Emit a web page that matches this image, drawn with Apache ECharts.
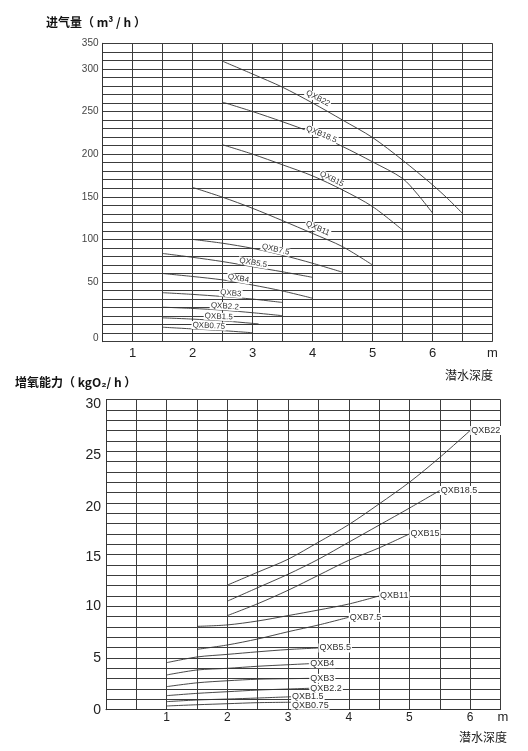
<!DOCTYPE html>
<html><head><meta charset="utf-8">
<script src="https://cdn.jsdelivr.net/npm/echarts@6/dist/echarts.min.js"></script>
<style>html,body{margin:0;padding:0;background:#fff}#c{width:528px;height:751px}</style>
</head><body><div id="c"></div>
<script>
// ---- data ----
const seriesNames = ['QXB22','QXB18.5','QXB15','QXB11','QXB7.5','QXB5.5','QXB4','QXB3','QXB2.2','QXB1.5','QXB0.75'];
const depthTicks = [1, 2, 3, 4, 5, 6];
const depthUnit = 'm';
const airYTicks = [0, 50, 100, 150, 200, 250, 300];
const airTopLabel = '350';
const oxyYTicks = [0, 5, 10, 15, 20, 25, 30];

// 进气量 (m3/h) vs 潜水深度 (m): [depth, value]
const air_QXB22  = [[2.5,309],[3,294],[3.5,278.5],[4,260],[4.5,240],[5,219.5],[5.5,193],[6,164],[6.25,148],[6.5,130.5]];
const air_QXB185 = [[2.5,261],[3,250],[3.5,238],[4,225],[4.5,209],[5,191],[5.5,171.5],[5.75,153],[6,131]];
const air_QXB15  = [[2.5,211],[3,200],[3.5,187.5],[4,174.5],[4.5,158],[5,138.5],[5.5,111]];
const air_QXB11  = [[2,161],[2.5,149.5],[3,136.5],[3.5,122],[4,107],[4.5,91.5],[5,70]];
const air_QXB75  = [[2,100],[2.5,95.5],[3,89.5],[3.5,81.5],[4,72],[4.5,61.5]];
const air_QXB55  = [[1.5,83.5],[2,79],[2.5,74],[3,68],[3.5,62],[4,55.5]];
const air_QXB4   = [[1.5,60],[2,56.5],[2.5,52.5],[3,46.5],[3.5,39.5],[4,31]];
const air_QXB3   = [[1.5,37.5],[2,35.5],[2.5,33],[3,30],[3.5,26]];
const air_QXB22k = [[1.5,20.5],[2,19],[2.5,17],[3,14],[3.5,10.5]];
const air_QXB15k = [[1.5,8],[2,6.5],[2.5,4.5],[3,1.5],[3.1,1]];
const air_QXB075 = [[1.5,-3],[2,-5],[2.5,-7],[3,-9.5]];

// 增氧能力 (kgO2/h) vs 潜水深度 (m)
const oxy_QXB22  = [[2,12.05],[2.5,13.3],[3,14.55],[3.5,16.2],[4,17.9],[4.5,19.9],[5,22],[5.5,24.4],[6,27]];
const oxy_QXB185 = [[2,10.5],[2.5,11.8],[3,13.1],[3.5,14.55],[4,16.2],[4.5,17.85],[5,19.5],[5.5,21.2]];
const oxy_QXB15  = [[2,9.1],[2.5,10.25],[3,11.55],[3.5,13],[4,14.45],[4.5,15.65],[5,17]];
const oxy_QXB11  = [[1.5,8.06],[2,8.2],[2.5,8.58],[3,9.1],[3.5,9.64],[4,10.22],[4.5,11]];
const oxy_QXB75  = [[1.5,5.84],[2,6.26],[2.5,6.84],[3,7.54],[3.5,8.19],[4,8.94]];
const oxy_QXB55  = [[1,4.55],[1.5,5.1],[2,5.35],[2.5,5.6],[3,5.82],[3.5,5.97]];
const oxy_QXB4   = [[1,3.36],[1.5,3.84],[2,4],[2.5,4.2],[3,4.35],[3.35,4.45]];
const oxy_QXB3   = [[1,2.23],[1.5,2.6],[2,2.8],[2.5,2.95],[3,3],[3.35,3.03]];
const oxy_QXB22k = [[1,1.36],[1.5,1.58],[2,1.74],[2.5,1.9],[3,2],[3.35,2.07]];
const oxy_QXB15k = [[1,0.78],[1.5,0.94],[2,1.03],[2.5,1.13],[3.05,1.25]];
const oxy_QXB075 = [[1,0.36],[1.5,0.48],[2,0.58],[2.5,0.68],[3.05,0.72]];

const airData = [air_QXB22, air_QXB185, air_QXB15, air_QXB11, air_QXB75, air_QXB55, air_QXB4, air_QXB3, air_QXB22k, air_QXB15k, air_QXB075];
const oxyData = [oxy_QXB22, oxy_QXB185, oxy_QXB15, oxy_QXB11, oxy_QXB75, oxy_QXB55, oxy_QXB4, oxy_QXB3, oxy_QXB22k, oxy_QXB15k, oxy_QXB075];

// ---- label styling (placement along curves) ----
const airLabelStyle = [
  {at: 3, rotate: -28, dx: 4, dist: 3},
  {at: 3, rotate: -23, dx: 8, dist: -2},
  {at: 4, rotate: -27, dx: -14, dist: 1},
  {at: 4, rotate: -24, dx: 4, dist: 3},
  {at: 3, rotate: -13, dx: -8, dist: 0},
  {at: 3, rotate: -10, dx: 0, dist: 0},
  {at: 3, rotate: -10, dx: -15, dist: 0},
  {at: 2, rotate: -5, dx: 8, dist: 0},
  {at: 2, rotate: -4, dx: 2, dist: 0},
  {at: 2, rotate: -3, dx: -4, dist: 0},
  {at: 2, rotate: -3, dx: -14, dist: 0}
];
const oxyLabelOffset = [[0,0],[0,0],[0,0],[0,0],[0,0],[0,0],[0,0],[0,0],[0,0],[0,0],[0,3]];
// small downward drift of the printed y labels in the lower chart (style)
const oxyYLabelShift = {30: 5, 25: 4, 20: 4, 15: 3};

const FONT = "'Liberation Sans', 'Noto Sans CJK SC', sans-serif";
const CJK = "'Noto Sans CJK SC', 'Liberation Sans', sans-serif";
const lineColor = '#333';

const series = [];
airData.forEach((arr, i) => {
  const st = airLabelStyle[i];
  series.push({
    type: 'line', name: seriesNames[i], xAxisIndex: 0, yAxisIndex: 0,
    smooth: 0.3, showSymbol: true, symbol: 'circle', symbolSize: 0,
    silent: true, z: 3,
    lineStyle: {color: lineColor, width: 0.9},
    itemStyle: {color: lineColor},
    data: arr.map((p, j) => j === st.at ? {
      value: p,
      label: {show: true, formatter: seriesNames[i], position: 'top', distance: st.dist,
        rotate: st.rotate, offset: [st.dx, 0], fontSize: 8, color: '#333',
        fontFamily: FONT, backgroundColor: '#fff', padding: [0, 1, 0, 1]}
    } : {value: p})
  });
});
oxyData.forEach((arr, i) => {
  series.push({
    type: 'line', name: seriesNames[i], xAxisIndex: 1, yAxisIndex: 1,
    smooth: 0.3, showSymbol: false, silent: true, z: 3,
    lineStyle: {color: lineColor, width: 0.9},
    data: arr,
    endLabel: {show: true, formatter: '{a}', distance: 0, offset: oxyLabelOffset[i],
      fontSize: 9, color: '#333', fontFamily: FONT,
      backgroundColor: '#fff', padding: [0, 1, 0, 1]}
  });
});

const oxyRich = {};
Object.keys(oxyYLabelShift).forEach(k => {
  oxyRich['s' + k] = {padding: [oxyYLabelShift[k] * 2, 0, 0, 0], fontSize: 14, color: '#222', fontFamily: FONT};
});

const gridLine = {show: true, lineStyle: {color: '#3c3c3c', width: 1}};
const titleBase = {padding: 0};
const option = {
  animation: false,
  backgroundColor: '#fff',
  title: [
    Object.assign({text: '进气量（ m³ / h ）', left: 46, top: 16, textStyle: {fontSize: 12, fontWeight: 'bold', color: '#111', fontFamily: CJK}}, titleBase),
    Object.assign({text: '潜水深度', left: 445, top: 369, textStyle: {fontSize: 12, fontWeight: 'normal', color: '#222', fontFamily: CJK}}, titleBase),
    Object.assign({text: '增氧能力（ kgO₂/ h ）', left: 15, top: 376, textStyle: {fontSize: 12, fontWeight: 'bold', color: '#111', fontFamily: CJK}}, titleBase),
    Object.assign({text: '潜水深度', left: 459, top: 731, textStyle: {fontSize: 12, fontWeight: 'normal', color: '#222', fontFamily: CJK}}, titleBase)
  ],
  grid: [
    {left: 102.5, right: 35.5, top: 43.3, bottom: 409.3, outerBoundsMode: 'none'},
    {left: 106, right: 27.5, top: 399.5, bottom: 41.3, outerBoundsMode: 'none'}
  ],
  xAxis: [
    {type: 'value', gridIndex: 0, min: 0.5, max: 7, interval: 0.5,
     axisLine: {show: true, lineStyle: {color: '#333'}}, axisTick: {show: false},
     axisLabel: {margin: 5, fontSize: 13, color: '#222', fontFamily: FONT, showMaxLabel: true,
       formatter: v => v === 7 ? depthUnit : (depthTicks.includes(v) ? String(v) : '')},
     splitLine: gridLine},
    {type: 'value', gridIndex: 1, min: 0, max: 6.5, interval: 0.5,
     name: depthUnit, nameLocation: 'end', nameGap: -3, nameMoveOverlap: false,
     nameTextStyle: {fontSize: 13, color: '#222', fontFamily: FONT, verticalAlign: 'top', padding: [1, 0, 0, 0]},
     axisLine: {show: true, lineStyle: {color: '#333'}}, axisTick: {show: false},
     axisLabel: {margin: 2, fontSize: 12, color: '#222', fontFamily: FONT,
       formatter: v => depthTicks.includes(v) ? String(v) : ''},
     splitLine: gridLine}
  ],
  yAxis: [
    {type: 'value', gridIndex: 0, min: -20, max: 330, interval: 10,
     axisLine: {show: true, lineStyle: {color: '#333'}}, axisTick: {show: false},
     axisLabel: {margin: 4, fontSize: 10, color: '#444', fontFamily: FONT,
       formatter: v => v === 330 ? airTopLabel : (v === 0 ? '{z|0}' : (airYTicks.includes(v) ? String(v) : '')),
       rich: {z: {padding: [28, 0, 0, 0], fontSize: 10, color: '#444', fontFamily: FONT}}},
     splitLine: gridLine},
    {type: 'value', gridIndex: 1, min: 0, max: 30, interval: 1,
     axisLine: {show: true, lineStyle: {color: '#333'}}, axisTick: {show: false},
     axisLabel: {margin: 5, fontSize: 14, color: '#222', fontFamily: FONT,
       formatter: v => oxyYTicks.includes(v) ? (oxyYLabelShift[v] ? '{s' + v + '|' + v + '}' : String(v)) : '',
       rich: oxyRich},
     splitLine: gridLine}
  ],
  series: series
};
const chart = echarts.init(document.getElementById('c'), null, {renderer: 'canvas'});
chart.setOption(option);
</script>
</body></html>
